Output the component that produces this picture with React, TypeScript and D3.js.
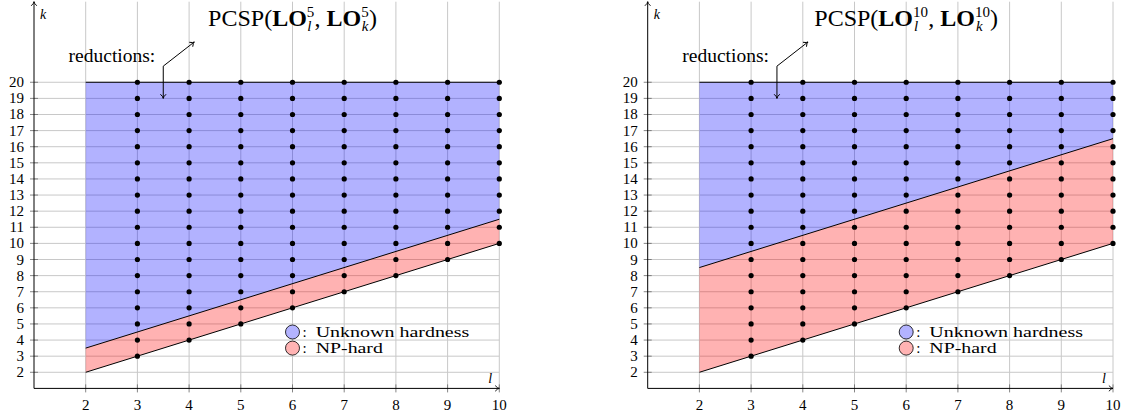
import React from 'react';
import * as d3 from 'd3';

// axis ticks
const lTicks = [2, 3, 4, 5, 6, 7, 8, 9, 10];
const kTicks = [2, 3, 4, 5, 6, 7, 8, 9, 10, 11, 12, 13, 14, 15, 16, 17, 18, 19, 20];

// dots: one column per l, from its lowest k up to 20
const dotColumns = [3, 4, 5, 6, 7, 8, 9, 10];
const dotMinK = [3, 4, 5, 6, 7, 8, 9, 10];
const dotMaxK = 20;

// the two panels: LO^n, upper boundary line (k at l=2 and at l=10)
const panelN = ['5', '10'];
const upperAtStart = [3.5, 8.5];
const upperAtEnd = [11.5, 16.5];
const lowerLine: [number, number][] = [[2, 2], [10, 10]];
const topK = 20;

const legendLabels = ['Unknown hardness', 'NP-hard'];
const legendColors = ['#b3b3ff', '#ffb3b3'];

const FONT = '"Liberation Serif", serif';

function arrowHead(tx: number, ty: number, fx: number, fy: number) {
  // small open chevron like tikz "->"
  const a = Math.atan2(ty - fy, tx - fx);
  const len = 5, spread = 0.6;
  const p1 = [tx - len * Math.cos(a - spread), ty - len * Math.sin(a - spread)];
  const p2 = [tx - len * Math.cos(a + spread), ty - len * Math.sin(a + spread)];
  return `M${p1[0]},${p1[1]} Q${tx - 1.5 * Math.cos(a)},${ty - 1.5 * Math.sin(a)} ${tx},${ty} Q${tx - 1.5 * Math.cos(a)},${ty - 1.5 * Math.sin(a)} ${p2[0]},${p2[1]}`;
}

function Panel({ idx, x0, x1 }: { idx: number; x0: number; x1: number }) {
  const x = d3.scaleLinear().domain([1, 10]).range([x0, x1]);
  const y = d3.scaleLinear().domain([1, 25]).range([388.4, 1.7]);
  const line = d3.line<[number, number]>().x(d => x(d[0])).y(d => y(d[1]));

  const us = upperAtStart[idx], ue = upperAtEnd[idx];
  const blue: [number, number][] = [[2, topK], [10, topK], [10, ue], [2, us]];
  const red: [number, number][] = [[2, us], [10, ue], [10, 10], [2, 2]];

  const dots: [number, number][] = [];
  dotColumns.forEach((l, i) => {
    for (let k = dotMinK[i]; k <= dotMaxK; k++) dots.push([l, k]);
  });

  const n = panelN[idx];
  const supW = n.length * 7;
  const cx = x(3.5), cy = y(21);
  const ux = x(4.1), uy = y(22.5);
  const dy = y(19);

  return (
    <g>
      {/* grid */}
      {kTicks.map(k => (
        <line key={'h' + k} x1={x(1)} x2={x(10)} y1={y(k)} y2={y(k)} stroke="#c8c8c8" strokeWidth={1} />
      ))}
      {lTicks.map(l => (
        <line key={'v' + l} x1={x(l)} x2={x(l)} y1={y(1)} y2={y(25)} stroke="#c8c8c8" strokeWidth={1} />
      ))}

      {/* regions */}
      <path d={line(blue) + 'Z'} fill="rgb(0,0,255)" fillOpacity={0.3} />
      <path d={line(red) + 'Z'} fill="rgb(255,0,0)" fillOpacity={0.3} />
      <path d={line([[2, topK], [10, topK]])!} stroke="black" strokeWidth={1} fill="none" />
      <path d={line([[2, us], [10, ue]])!} stroke="black" strokeWidth={1} fill="none" />
      <path d={line(lowerLine)!} stroke="black" strokeWidth={1} fill="none" />

      {/* ticks */}
      {kTicks.map(k => (
        <line key={'tk' + k} x1={x(1) - 4} x2={x(1) + 4} y1={y(k)} y2={y(k)} stroke="#666" strokeWidth={0.8} />
      ))}
      {lTicks.map(l => (
        <line key={'tl' + l} x1={x(l)} x2={x(l)} y1={y(1) - 4} y2={y(1) + 4} stroke="#666" strokeWidth={0.8} />
      ))}

      {/* axes */}
      <line x1={x(1)} x2={x(10)} y1={y(1)} y2={y(1)} stroke="black" strokeWidth={1} />
      <path d={arrowHead(x(10), y(1), x(1), y(1))} stroke="black" strokeWidth={0.9} fill="none" />
      <line x1={x(1)} x2={x(1)} y1={y(1)} y2={y(25)} stroke="black" strokeWidth={1} />
      <path d={arrowHead(x(1), y(25), x(1), y(1))} stroke="black" strokeWidth={0.9} fill="none" />

      {/* tick labels */}
      {kTicks.map(k => (
        <text key={'lk' + k} x={x(1) - 10} y={y(k) + 5} textAnchor="end" fontSize={15} fontFamily={FONT}>{k}</text>
      ))}
      {lTicks.map(l => (
        <text key={'ll' + l} x={x(l)} y={410} textAnchor="middle" fontSize={15} fontFamily={FONT}>{l}</text>
      ))}
      <text x={x(1) + 6} y={y(25) + 17} fontSize={14} fontStyle="italic" fontFamily={FONT}>k</text>
      <text x={x(10) - 11} y={y(1) - 5} fontSize={14} fontStyle="italic" fontFamily={FONT}>l</text>

      {/* dots */}
      {dots.map(([l, k]) => (
        <circle key={l + '-' + k} cx={x(l)} cy={y(k)} r={2.6} fill="black" />
      ))}

      {/* reductions */}
      <text x={cx - 8} y={cy - 4} textAnchor="end" fontSize={19.5} fontFamily={FONT}>reductions:</text>
      <path d={`M${cx},${cy} L${ux},${uy}`} stroke="black" strokeWidth={1} fill="none" />
      <path d={arrowHead(ux, uy, cx, cy)} stroke="black" strokeWidth={1} fill="none" />
      <path d={`M${cx},${cy} L${cx},${dy}`} stroke="black" strokeWidth={1} fill="none" />
      <path d={arrowHead(cx, dy, cx, cy)} stroke="black" strokeWidth={1} fill="none" />

      {/* title */}
      <text x={x(6)} y={26} textAnchor="middle" fontSize={24} fontFamily={FONT}>
        PCSP(
        <tspan fontWeight="bold">LO</tspan>
        <tspan fontSize={15} dy={-9}>{n}</tspan>
        <tspan fontSize={15} fontStyle="italic" dx={-supW} dy={14}>l</tspan>
        <tspan dx={supW - 4} dy={-5}>, </tspan>
        <tspan fontWeight="bold">LO</tspan>
        <tspan fontSize={15} dy={-9}>{n}</tspan>
        <tspan fontSize={15} fontStyle="italic" dx={-supW} dy={14}>k</tspan>
        <tspan dx={supW - 6.5} dy={-5}>)</tspan>
      </text>

      {/* legend */}
      {legendLabels.map((lab, i) => {
        const ly = y(4.5 - i);
        return (
          <g key={lab}>
            <circle cx={x(6)} cy={ly} r={7} fill={legendColors[i]} stroke="black" strokeWidth={0.8} />
            <text x={x(6) + 10} y={ly + 5} fontSize={15} fontFamily={FONT}>
              :<tspan dx={9} textLength={lab.length * 9.6} lengthAdjust="spacingAndGlyphs">{lab}</tspan>
            </text>
          </g>
        );
      })}
    </g>
  );
}

export default function App() {
  return (
    <svg width={1128} height={416} style={{ position: 'absolute', left: 0, top: 0, background: 'white' }}>
      <Panel idx={0} x0={34} x1={499.3} />
      <Panel idx={1} x0={647.7} x1={1113} />
    </svg>
  );
}
